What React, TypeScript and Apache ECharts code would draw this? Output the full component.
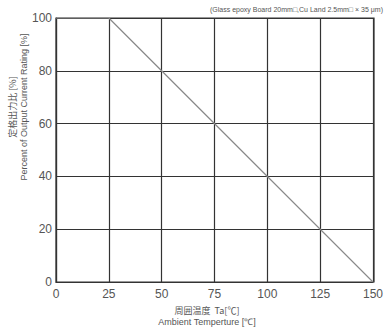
import React, { useEffect, useRef } from "react";
import * as echarts from "echarts";

const xTicks = [0, 25, 50, 75, 100, 125, 150];
const yTicks = [0, 20, 40, 60, 80, 100];
const deratingX = [0, 25, 150];
const deratingY = [100, 100, 0];
const noteText = "(Glass epoxy Board 20mm□,Cu Land 2.5mm□ × 35 μm)";
const yTitleJa = "定格出力比 [%]";
const yTitleEn = "Percent of Output Current Rating [%]";
const xTitleJa = "周囲温度  Ta[℃]";
const xTitleEn = "Ambient Temperture [℃]";

export default function App() {
  const ref = useRef<HTMLDivElement>(null);
  useEffect(() => {
    if (!ref.current) return;
    const chart = echarts.init(ref.current, null, { renderer: "svg" });
    const font = "'Liberation Sans', Arial, sans-serif";
    chart.setOption({
      animation: false,
      backgroundColor: "#ffffff",
      grid: { left: 56, right: 12, top: 18, bottom: 47 },
      xAxis: {
        type: "value",
        min: xTicks[0],
        max: xTicks[xTicks.length - 1],
        interval: 25,
        axisLine: { show: true, lineStyle: { color: "#333", width: 1.2 } },
        axisTick: { show: false },
        axisLabel: { color: "#555", fontSize: 12, fontFamily: font, margin: 6 },
        splitLine: { show: true, lineStyle: { color: "#333", width: 1.2 } },
      },
      yAxis: {
        type: "value",
        min: yTicks[0],
        max: yTicks[yTicks.length - 1],
        interval: 20,
        axisLine: { show: true, lineStyle: { color: "#333", width: 1.2 } },
        axisTick: { show: false },
        axisLabel: { color: "#555", fontSize: 12, fontFamily: font, margin: 4 },
        splitLine: { show: true, lineStyle: { color: "#333", width: 1.2 } },
      },
      series: [
        {
          type: "line",
          data: deratingX.map((x, i) => [x, deratingY[i]]),
          symbol: "none",
          lineStyle: { color: "#8a8a8a", width: 1.2 },
          z: 1,
        },
      ],
      graphic: [
        {
          type: "rect",
          shape: { x: 56, y: 18, width: 318, height: 264 },
          style: { fill: "none", stroke: "#333", lineWidth: 1.2 },
          silent: true,
        },
        {
          type: "text",
          x: 383,
          y: 9,
          style: {
            text: noteText,
            fill: "#555",
            fontSize: 7,
            fontFamily: font,
            align: "right",
            verticalAlign: "middle",
          },
        },
        {
          type: "text",
          x: 12,
          y: 107,
          rotation: Math.PI / 2,
          style: {
            text: yTitleJa,
            fill: "#555",
            fontSize: 9,
            fontFamily: "'Noto Sans CJK JP', sans-serif",
            align: "center",
            verticalAlign: "middle",
          },
        },
        {
          type: "text",
          x: 24,
          y: 107,
          rotation: Math.PI / 2,
          style: {
            text: yTitleEn,
            fill: "#555",
            fontSize: 9,
            fontFamily: font,
            align: "center",
            verticalAlign: "middle",
          },
        },
        {
          type: "text",
          x: 207,
          y: 310,
          style: {
            text: xTitleJa,
            fill: "#555",
            fontSize: 9,
            fontFamily: "'Noto Sans CJK JP', sans-serif",
            align: "center",
            verticalAlign: "middle",
          },
        },
        {
          type: "text",
          x: 207,
          y: 322,
          style: {
            text: xTitleEn,
            fill: "#555",
            fontSize: 9,
            fontFamily: font,
            align: "center",
            verticalAlign: "middle",
          },
        },
      ],
    });
    return () => chart.dispose();
  }, []);
  return <div ref={ref} style={{ width: 386, height: 329, position: "absolute", left: 0, top: 0 }} />;
}
